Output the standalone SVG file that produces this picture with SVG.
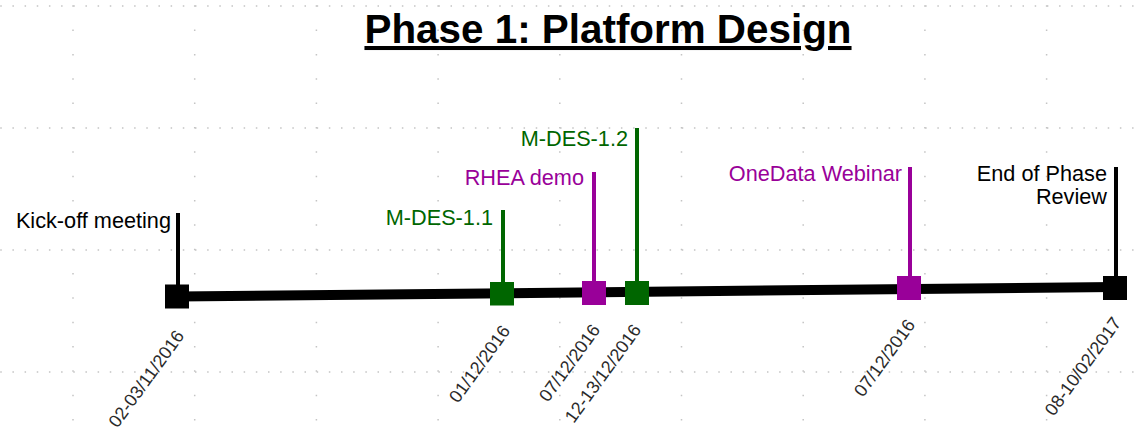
<svg xmlns="http://www.w3.org/2000/svg" width="1135" height="433" viewBox="0 0 1135 433">
<style>
.grid line{stroke:#c4c4c4;stroke-width:1.5}
.gh{stroke-dasharray:1.5 10.67}
.gv{stroke-dasharray:1.5 22.84}
.lbl{font-family:"Liberation Sans",Arial,sans-serif;font-size:21.7px;text-anchor:end}
.date{font-family:"Liberation Sans",Arial,sans-serif;font-size:18px;text-anchor:end;fill:#2a2a2a}
.blk{fill:#000}
.grn{fill:#006600}
.pur{fill:#990099}
.stemK{stroke:#000;stroke-width:4}
.stemG{stroke:#006600;stroke-width:4}
.stemP{stroke:#990099;stroke-width:4}
</style>
<rect width="1135" height="433" fill="#fff"/>
<g class="grid">
<line class="gh" x1="0.25" y1="6" x2="1135" y2="6"/>
<line class="gh" x1="0.25" y1="128" x2="1135" y2="128"/>
<line class="gh" x1="0.25" y1="250" x2="1135" y2="250"/>
<line class="gh" x1="0.25" y1="372" x2="1135" y2="372"/>
<line class="gv" x1="73" y1="5.25" x2="73" y2="433"/>
<line class="gv" x1="194.7" y1="5.25" x2="194.7" y2="433"/>
<line class="gv" x1="316.4" y1="5.25" x2="316.4" y2="433"/>
<line class="gv" x1="438.1" y1="5.25" x2="438.1" y2="433"/>
<line class="gv" x1="559.8" y1="5.25" x2="559.8" y2="433"/>
<line class="gv" x1="681.5" y1="5.25" x2="681.5" y2="433"/>
<line class="gv" x1="803.2" y1="5.25" x2="803.2" y2="433"/>
<line class="gv" x1="924.9" y1="5.25" x2="924.9" y2="433"/>
<line class="gv" x1="1046.6" y1="5.25" x2="1046.6" y2="433"/>
</g>
<g id="title">
<text x="608" y="43" font-family="'Liberation Sans',Arial,sans-serif" font-size="40.4" font-weight="bold" text-anchor="middle" text-decoration="underline" fill="#000">Phase 1: Platform Design</text>
</g>
<g id="connectors">
<line x1="177" y1="296.5" x2="1115" y2="287" stroke="#000" stroke-width="10"/>
</g>
<g id="kickoff">
<line class="stemK" x1="178" y1="213" x2="178" y2="286"/>
<rect class="blk" x="165" y="284.5" width="24" height="24"/>
<text class="lbl blk" x="171" y="228">Kick-off meeting</text>
<text class="date" transform="translate(185,336) rotate(-54)">02-03/11/2016</text>
</g>
<g id="mdes11">
<line class="stemG" x1="503" y1="210" x2="503" y2="284"/>
<rect class="grn" x="490" y="282" width="24" height="23.5"/>
<text class="lbl grn" x="493" y="225">M-DES-1.1</text>
<text class="date" transform="translate(511,331) rotate(-54)">01/12/2016</text>
</g>
<g id="rhea">
<line class="stemP" x1="594" y1="172" x2="594" y2="283"/>
<rect class="pur" x="582" y="281" width="24" height="24"/>
<text class="lbl pur" x="584" y="185">RHEA demo</text>
<text class="date" transform="translate(601,330) rotate(-54)">07/12/2016</text>
</g>
<g id="mdes12">
<line class="stemG" x1="637" y1="128" x2="637" y2="283"/>
<rect class="grn" x="625" y="281" width="24" height="24"/>
<text class="lbl grn" x="628" y="146">M-DES-1.2</text>
<text class="date" transform="translate(642,330) rotate(-54)">12-13/12/2016</text>
</g>
<g id="onedata">
<line class="stemP" x1="910" y1="167" x2="910" y2="278"/>
<rect class="pur" x="897" y="276" width="24" height="24"/>
<text class="lbl pur" x="902" y="181">OneData Webinar</text>
<text class="date" transform="translate(916,325) rotate(-54)">07/12/2016</text>
</g>
<g id="end">
<line class="stemK" x1="1116" y1="167" x2="1116" y2="278"/>
<rect class="blk" x="1103" y="276" width="24" height="24"/>
<text class="lbl blk" x="1107" y="181">End of Phase</text>
<text class="lbl blk" x="1107" y="204">Review</text>
<text class="date" transform="translate(1122,323) rotate(-54)">08-10/02/2017</text>
</g>
</svg>
